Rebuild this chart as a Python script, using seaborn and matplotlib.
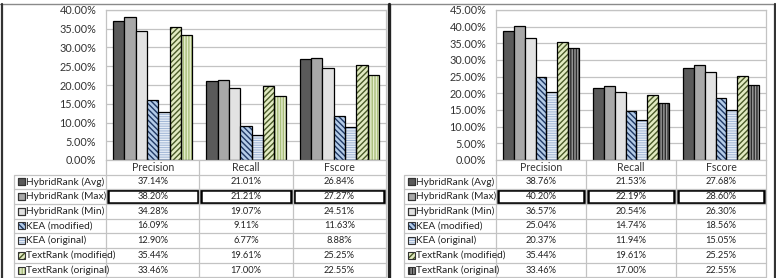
import numpy as np
import pandas as pd
import matplotlib
matplotlib.use("Agg")
import matplotlib.pyplot as plt
from matplotlib.patches import Rectangle
from matplotlib.ticker import PercentFormatter, MultipleLocator
import seaborn as sns

# ---------------- data ----------------
metrics = ["Precision", "Recall", "Fscore"]
methods = ["HybridRank (Avg)", "HybridRank (Max)", "HybridRank (Min)",
           "KEA (modified)", "KEA (original)",
           "TextRank (modified)", "TextRank (original)"]

# left panel (%)
left_precision = [37.14, 38.20, 34.28, 16.09, 12.90, 35.44, 33.46]
left_recall = [21.01, 21.21, 19.07, 9.11, 6.77, 19.61, 17.00]
left_fscore = [26.84, 27.27, 24.51, 11.63, 8.88, 25.25, 22.55]

# right panel (%)
right_precision = [38.76, 40.20, 36.57, 25.04, 20.37, 35.44, 33.46]
right_recall = [21.53, 22.19, 20.54, 14.74, 11.94, 19.61, 17.00]
right_fscore = [27.68, 28.60, 26.30, 18.56, 15.05, 25.25, 22.55]

left_ymax = 0.40
right_ymax = 0.45

# ---------------- styles ----------------
base_styles = [
    dict(face="#5a5a5a", hatch=None, hc=None),
    dict(face="#a8a8a8", hatch=None, hc=None),
    dict(face="#e2e2e2", hatch=None, hc=None),
    dict(face="#b4cce8", hatch="\\\\\\\\\\\\", hc="#1f3864"),
    dict(face="#9fb5d5", hatch="-------", hc="#e6edf6"),
    dict(face="#e2ebc2", hatch="//////", hc="#4a5a28"),
]
left_styles = base_styles + [dict(face="#a9be7a", hatch="||||||", hc="#e4ecce")]
right_styles = base_styles + [dict(face="#9c9c9c", hatch="||||||", hc="#2c2c2c")]

sns.set_style("white")
plt.rcParams["font.family"] = ["Lato", "DejaVu Sans"]
plt.rcParams["hatch.linewidth"] = 1.0

W, H = 776, 278
fig = plt.figure(figsize=(W / 100, H / 100), dpi=100)

grid_c = "#c3c3c3"
row_top0 = 174.5
row_h = 14.7


def style_patch(p, st, ax):
    p.set_facecolor(st["face"])
    if st["hatch"]:
        p.set_hatch(st["hatch"])
        p.set_edgecolor(st["hc"])
        p.set_linewidth(0)
        ax.add_patch(Rectangle(p.get_xy(), p.get_width(), p.get_height(),
                               fill=False, edgecolor="black", lw=0.9, zorder=p.get_zorder() + 0.1))
    else:
        p.set_edgecolor("black")
        p.set_linewidth(0.9)


def panel(x0, col_edges, precision, recall, fscore, ymax, styles, ov):
    df = pd.DataFrame({
        "method": methods * 3,
        "metric": sum([[m] * len(methods) for m in metrics], []),
        "score": np.array(precision + recall + fscore) / 100.0,
    })
    left, right = col_edges[0], col_edges[-1]
    ax = fig.add_axes([left / W, (H - 160) / H, (right - left) / W, 150 / H])
    sns.barplot(data=df, x="metric", y="score", hue="method", order=metrics,
                hue_order=methods, palette=[s["face"] for s in styles],
                saturation=1, width=0.85, legend=False, ax=ax, errorbar=None)
    for cont, st in zip(ax.containers, styles):
        for p in cont.patches:
            style_patch(p, st, ax)
    ax.set_ylim(0, ymax)
    ax.set_xlim(-0.5, 2.5)
    ax.yaxis.set_major_locator(MultipleLocator(0.05))
    ax.yaxis.set_major_formatter(PercentFormatter(xmax=1, decimals=2))
    ax.grid(axis="y", color=grid_c, lw=0.9)
    ax.set_axisbelow(True)
    ax.set_xticks([])
    ax.set_xlabel("")
    ax.set_ylabel("")
    ax.tick_params(axis="y", length=0, pad=7, labelsize=7.8, labelcolor="#333333")
    for s in ax.spines.values():
        s.set_color(grid_c)
        s.set_linewidth(0.9)

    # ---- data table ----
    lab_left = x0 + 14
    n = len(methods)
    bottom = row_top0 + n * row_h
    for k in range(n + 1):
        y = row_top0 + k * row_h
        ov.plot([lab_left, right], [y, y], color=grid_c, lw=0.9)
    ov.plot([lab_left, lab_left], [row_top0, bottom], color=grid_c, lw=0.9)
    for xe in col_edges:
        ov.plot([xe, xe], [160, bottom], color=grid_c, lw=0.9)
    for j, m in enumerate(metrics):
        cx = (col_edges[j] + col_edges[j + 1]) / 2
        ov.text(cx, 167.5, m, ha="center", va="center", fontsize=7.6, color="#333333")
    cols = [precision, recall, fscore]
    for i, (name, st) in enumerate(zip(methods, styles)):
        yt = row_top0 + i * row_h
        yc = yt + row_h / 2
        key = Rectangle((lab_left + 3.5, yc - 3.5), 7, 7, facecolor=st["face"],
                        edgecolor=st["hc"] if st["hatch"] else "#333333",
                        hatch=st["hatch"], lw=0 if st["hatch"] else 0.8)
        ov.add_patch(key)
        ov.add_patch(Rectangle((lab_left + 3.5, yc - 3.5), 7, 7, fill=False,
                               edgecolor="#333333", lw=0.8))
        ov.text(lab_left + 12.5, yc, name, ha="left", va="center", fontsize=7.3, color="#222222")
        for j in range(3):
            cx = (col_edges[j] + col_edges[j + 1]) / 2
            ov.text(cx, yc, "{:.2f}%".format(cols[j][i]), ha="center", va="center",
                    fontsize=6.7, color="#222222")
            if i == 1:
                ov.add_patch(Rectangle((col_edges[j] + 1.6, yt + 1.0),
                                       col_edges[j + 1] - col_edges[j] - 3.2, row_h - 2.0,
                                       fill=False, edgecolor="black", lw=1.8))


ov = fig.add_axes([0, 0, 1, 1], zorder=10)
ov.set_xlim(0, W)
ov.set_ylim(H, 0)
ov.axis("off")
ov.patch.set_alpha(0)

panel(0, [106, 199.3, 292.7, 386], left_precision, left_recall, left_fscore,
      left_ymax, left_styles, ov)
panel(390, [496, 586, 676, 766], right_precision, right_recall, right_fscore,
      right_ymax, right_styles, ov)

# frame lines
ov.plot([0, W], [4, 4], color="#8a8a8a", lw=1.0)
ov.plot([1.5, 1.5], [4, H], color="#333333", lw=1.6)
ov.plot([774.5, 774.5], [4, H], color="#333333", lw=1.6)
ov.plot([388.5, 388.5], [4, H], color="#222222", lw=2.4)

fig.savefig("out.png", dpi=100)
